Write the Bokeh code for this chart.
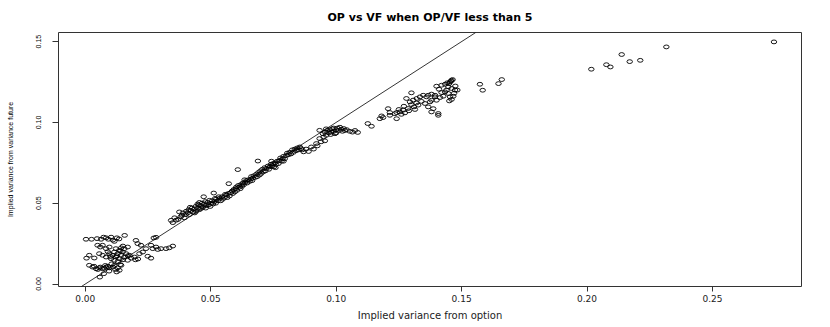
from bokeh.plotting import figure
from bokeh.models import Range1d, FixedTicker, Slope
from bokeh.embed import file_html
from bokeh.resources import INLINE

# ---- data (implied variances) ----
# lower-left scattered group
op_low = [.0003,.0025,.0047,.0063,.0073,.0083,.0092,.0103,.0116,.0126,.0157,.0202,.0273,.0282,.0110,.0135,
          .0049,.0060,.0069,.0083,.0096,.0122,.0136,.0156,.0169,.0209,.0222,.0242,.0269,.0289,.0302,.0322,.0335,.0349,.0143,.0150,.0262,.0282,
          .0036,.0056,.0069,.0083,.0096,.0103,.0109,.0116,.0122,.0129,.0136,.0143,.0149,.0156,.0163,.0169,.0176,.0116,.0130,.0150,.0183,.0196,.0216,.0229,.0249,.0262,.0005,.0016,.0090,.0140,.0100,.0126,.0170,.0200,.0210,
          .0016,.0029,.0043,.0056,.0069,.0083,.0096,.0116,.0129,.0143,.0060,.0075,.0090,.0105,.0120,.0136,.0058,.0074,.0095,.0125,.0140,.0110,.0080,.0035,.0050]
vf_low = [.0277,.0277,.0281,.0277,.0290,.0286,.0277,.0290,.0264,.0286,.0301,.0270,.0285,.0289,.0272,.0279,
          .0240,.0229,.0240,.0219,.0229,.0219,.0209,.0219,.0229,.0250,.0240,.0219,.0219,.0214,.0219,.0219,.0224,.0235,.0224,.0235,.0240,.0229,
          .0161,.0188,.0178,.0167,.0188,.0157,.0178,.0198,.0167,.0188,.0157,.0178,.0198,.0167,.0188,.0147,.0178,.0147,.0139,.0150,.0160,.0167,.0188,.0198,.0172,.0160,.0160,.0178,.0200,.0205,.0170,.0175,.0175,.0150,.0155,
          .0116,.0105,.0095,.0100,.0095,.0105,.0100,.0116,.0100,.0116,.0105,.0098,.0110,.0125,.0090,.0085,.0043,.0064,.0080,.0075,.0120,.0105,.0115,.0110,.0090]

# main band
op_mid = [.0342,.0349,.0356,.0362,.0370,.0375,.0380,.0385,.0389,.0395,.0400,.0402,
          .0408,.0412,.0415,.0420,.0425,.0429,.0435,.0440,.0442,.0448,.0452,.0455,.0460,.0465,.0469,.0472,.0475,.0480,.0482,.0488,.0492,.0495,.0498,.0502,.0448,.0436,.0418,.0462,.0478,.0455,
          .0505,.0509,.0512,.0515,.0520,.0522,.0528,.0535,.0540,.0545,.0548,.0555,.0562,.0566,.0570,.0572,.0575,.0580,.0585,.0588,.0592,.0596,.0600,.0532,.0558,.0518,
          .0602,.0605,.0608,.0610,.0615,.0620,.0625,.0628,.0632,.0638,.0642,.0645,.0650,.0655,.0660,.0662,.0668,.0672,.0678,.0682,.0686,.0688,.0690,.0695,.0698,.0635,.0665,.0618,
          .0702,.0706,.0710,.0715,.0718,.0722,.0728,.0732,.0735,.0740,.0745,.0748,.0752,.0756,.0760,.0765,.0770,.0775,.0778,.0782,.0786,.0790,.0795,.0801,.0805,.0810,.0815,.0820,.0825,.0830,.0835,.0840,.0845,.0850,.0855,.0860,.0758,.0742,.0790]
vf_mid = [.0394,.0380,.0410,.0395,.0400,.0446,.0415,.0425,.0440,.0410,.0430,.0450,
          .0440,.0460,.0430,.0455,.0470,.0445,.0465,.0480,.0450,.0470,.0490,.0460,.0485,.0500,.0475,.0540,.0495,.0470,.0485,.0505,.0490,.0518,.0480,.0500,.0495,.0440,.0475,.0468,.0510,.0505,
          .0515,.0495,.0563,.0510,.0500,.0525,.0515,.0530,.0515,.0540,.0525,.0535,.0550,.0535,.0560,.0621,.0545,.0565,.0575,.0560,.0585,.0570,.0590,.0540,.0555,.0530,
          .0600,.0580,.0708,.0610,.0600,.0615,.0605,.0625,.0615,.0630,.0640,.0625,.0645,.0635,.0650,.0665,.0655,.0670,.0660,.0680,.0665,.0761,.0690,.0675,.0700,.0645,.0640,.0590,
          .0685,.0710,.0695,.0720,.0700,.0715,.0730,.0710,.0725,.0740,.0730,.0745,.0725,.0750,.0740,.0760,.0745,.0765,.0780,.0760,.0775,.0790,.0775,.0795,.0810,.0800,.0815,.0805,.0830,.0815,.0835,.0825,.0842,.0830,.0848,.0838,.0720,.0760,.0760]

# cluster around 0.10
op_c10 = [.0865,.0870,.0880,.0890,.0901,.0910,.0921,.0925,.0934,.0940,.0955,.0934,.0947,.0955,.0960,.0965,.0970,.0975,.0980,.0985,.0990,.0995,
          .1000,.1005,.1010,.1015,.1020,.1025,.1030,.1035,.1042,.1054,.1065,.1075,.1086,.1126,.1141,.0950,.0960,.0990,.1000,.0978]
vf_c10 = [.0830,.0818,.0835,.0820,.0848,.0835,.0869,.0855,.0900,.0880,.0886,.0951,.0930,.0940,.0920,.0950,.0935,.0955,.0940,.0960,.0945,.0930,
          .0955,.0965,.0950,.0970,.0958,.0945,.0962,.0950,.0955,.0945,.0940,.0950,.0938,.0993,.0976,.0910,.0960,.0965,.0935,.0925]

# upper band 0.115 - 0.15
op_up = [.1174,.1181,.1187,.1207,.1214,.1214,.1234,.1241,.1241,.1254,.1267,.1274,.1287,.1294,.1300,.1280,.1307,.1314,.1321,.1327,.1334,.1347,.1354,.1360,.1367,.1374,.1380,.1407,.1367,.1380,.1394,.1310,.1290,.1260,.1300,.1320,.1340,.1270,.1250,.1387,.1400,.1380,.1407,
         .1400,.1420,.1434,.1443,.1454,.1460,.1464,.1447,.1460,.1474,.1483,.1434,.1447,.1454,.1467,.1460,.1451,.1427,.1414,.1394,.1440,.1450,.1458,.1470,.1475,.1420,.1410]
vf_up = [.1023,.1040,.1030,.1085,.1044,.1061,.1054,.1023,.1061,.1065,.1076,.1059,.1086,.1127,.1183,.1148,.1138,.1080,.1148,.1107,.1158,.1168,.1117,.1158,.1096,.1127,.1065,.1055,.1168,.1175,.1158,.1096,.1072,.1050,.1110,.1120,.1130,.1100,.1080,.1085,.1137,.1137,.1044,
         .1224,.1230,.1236,.1245,.1251,.1261,.1265,.1220,.1210,.1200,.1200,.1189,.1179,.1158,.1162,.1142,.1133,.1162,.1154,.1168,.1200,.1240,.1255,.1180,.1225,.1185,.1205]

# sparse high values
op_high = [.1573,.1584,.1647,.1660,.2017,.2077,.2093,.2138,.2170,.2212,.2316,.2745]
vf_high = [.1236,.1199,.1240,.1265,.1329,.1357,.1343,.1420,.1376,.1384,.1467,.1498]

op = op_low + op_mid + op_c10 + op_up + op_high
vf = vf_low + vf_mid + vf_c10 + vf_up + vf_high

x_ticks = [0.0, 0.05, 0.10, 0.15, 0.20, 0.25]
y_ticks = [0.0, 0.05, 0.10, 0.15]
tick_labels_x = {0.0: "0.00", 0.05: "0.05", 0.1: "0.10", 0.15: "0.15", 0.2: "0.20", 0.25: "0.25"}
tick_labels_y = {0.0: "0.00", 0.05: "0.05", 0.1: "0.10", 0.15: "0.15"}

# R-style 4% range extension
xr = max(op) - min(op)
yr = max(vf) - min(vf)

p = figure(width=824, height=325, output_backend="svg", toolbar_location=None,
           x_range=Range1d(min(op) - 0.04 * xr, max(op) + 0.04 * xr),
           y_range=Range1d(min(vf) - 0.04 * yr, max(vf) + 0.04 * yr),
           min_border_left=58, min_border_right=23, min_border_top=32, min_border_bottom=39,
           title="OP vs VF when OP/VF less than 5")

p.title.align = "center"
p.title.text_font = "DejaVu Sans"
p.title.text_font_size = "11px"
p.title.text_font_style = "bold"
p.title.text_color = "black"
p.title.standoff = 14
p.title.vertical_align = "top"

p.grid.visible = False
p.background_fill_color = "white"
p.outline_line_color = "#333333"
p.outline_line_width = 1

# identity line (abline(0,1))
p.add_layout(Slope(gradient=1, y_intercept=0, line_color="black", line_width=0.8))

p.ellipse(x=op, y=vf, width=5.5, height=3.8, width_units="screen", height_units="screen",
          fill_color=None, line_color="black", line_width=0.9)

xa = p.xaxis[0]
xa.ticker = FixedTicker(ticks=x_ticks)
xa.major_label_overrides = tick_labels_x
xa.axis_label = "Implied variance from option"
xa.axis_label_text_font = "DejaVu Sans"
xa.axis_label_text_font_size = "10px"
xa.axis_label_text_font_style = "normal"
xa.axis_label_text_color = "#222222"
xa.axis_label_standoff = 5
xa.major_label_text_font = "DejaVu Sans"
xa.major_label_text_font_size = "9px"
xa.major_label_text_color = "#222222"
xa.major_label_standoff = 3
xa.axis_line_color = None
xa.major_tick_out = 5
xa.major_tick_in = 0
xa.minor_tick_out = 0
xa.minor_tick_in = 0
xa.major_tick_line_color = "#333333"

ya = p.yaxis[0]
ya.ticker = FixedTicker(ticks=y_ticks)
ya.major_label_overrides = tick_labels_y
ya.axis_label = "Implied variance from variance future"
ya.axis_label_text_font = "Liberation Sans"
ya.axis_label_text_font_size = "7px"
ya.axis_label_text_font_style = "normal"
ya.axis_label_text_color = "black"
ya.axis_label_standoff = 20
ya.major_label_text_font = "Liberation Sans"
ya.major_label_text_font_size = "7px"
ya.major_label_text_color = "black"
ya.major_label_orientation = "vertical"
ya.major_label_standoff = 11
ya.axis_line_color = None
ya.major_tick_out = 6
ya.major_tick_in = 0
ya.minor_tick_out = 0
ya.minor_tick_in = 0
ya.major_tick_line_color = "#333333"

open("out.html", "w").write(file_html(p, INLINE))
